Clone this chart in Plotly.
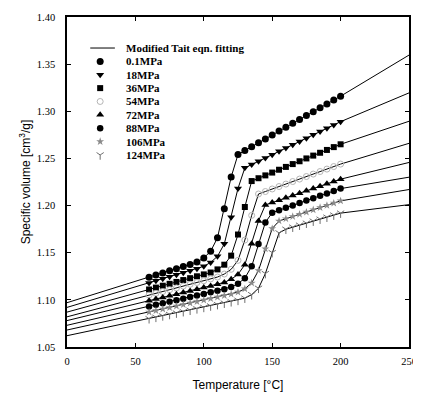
import plotly.graph_objects as go

# ---- data ----
temperature = [60, 65, 70, 75, 80, 85, 90, 95, 100, 105, 110, 115, 120, 125, 130,
               135, 140, 145, 150, 155, 160, 165, 170, 175, 180, 185, 190, 195, 200]
fit_t_start = 0
fit_t_end = 250

labels = ["0.1MPa", "18MPa", "36MPa", "54MPa", "72MPa", "88MPa", "106MPa", "124MPa"]

v_0p1 = [1.1240, 1.1263, 1.1285, 1.1308, 1.1330, 1.1353, 1.1375, 1.1401, 1.1445, 1.1515,
         1.1658, 1.1967, 1.2303, 1.2542, 1.2584, 1.2625, 1.2666, 1.2707, 1.2748, 1.2790,
         1.2831, 1.2872, 1.2913, 1.2954, 1.2996, 1.3037, 1.3078, 1.3119, 1.3160]
v_18 = [1.1180, 1.1202, 1.1223, 1.1245, 1.1266, 1.1288, 1.1310, 1.1331, 1.1356, 1.1397,
        1.1462, 1.1594, 1.1876, 1.2182, 1.2400, 1.2435, 1.2470, 1.2505, 1.2540, 1.2575,
        1.2610, 1.2645, 1.2680, 1.2715, 1.2750, 1.2785, 1.2820, 1.2855, 1.2890]
v_36 = [1.1110, 1.1130, 1.1150, 1.1170, 1.1190, 1.1210, 1.1230, 1.1250, 1.1270, 1.1290,
        1.1323, 1.1373, 1.1469, 1.1693, 1.1985, 1.2260, 1.2290, 1.2320, 1.2350, 1.2380,
        1.2410, 1.2440, 1.2470, 1.2500, 1.2530, 1.2560, 1.2590, 1.2620, 1.2650]
v_54 = [1.1050, 1.1069, 1.1088, 1.1107, 1.1126, 1.1146, 1.1165, 1.1184, 1.1203, 1.1222,
        1.1242, 1.1274, 1.1324, 1.1419, 1.1634, 1.1896, 1.2123, 1.2149, 1.2176, 1.2202,
        1.2228, 1.2255, 1.2281, 1.2308, 1.2334, 1.2361, 1.2387, 1.2414, 1.2440]
v_72 = [1.0990, 1.1008, 1.1025, 1.1043, 1.1060, 1.1078, 1.1095, 1.1113, 1.1130, 1.1148,
        1.1165, 1.1185, 1.1218, 1.1270, 1.1373, 1.1595, 1.1837, 1.2007, 1.2032, 1.2057,
        1.2082, 1.2107, 1.2131, 1.2156, 1.2181, 1.2206, 1.2231, 1.2255, 1.2280]
v_88 = [1.0930, 1.0947, 1.0963, 1.0980, 1.0997, 1.1013, 1.1030, 1.1047, 1.1063, 1.1080,
        1.1097, 1.1113, 1.1136, 1.1171, 1.1230, 1.1356, 1.1593, 1.1821, 1.1925, 1.1951,
        1.1976, 1.2002, 1.2027, 1.2053, 1.2078, 1.2103, 1.2129, 1.2154, 1.2180]
v_106 = [1.0870, 1.0886, 1.0902, 1.0918, 1.0934, 1.0949, 1.0965, 1.0981, 1.0997, 1.1013,
         1.1029, 1.1045, 1.1060, 1.1082, 1.1117, 1.1179, 1.1312, 1.1541, 1.1756, 1.1837,
         1.1860, 1.1884, 1.1908, 1.1931, 1.1955, 1.1979, 1.2002, 1.2026, 1.2050]
v_124 = [1.0800, 1.0815, 1.0830, 1.0845, 1.0860, 1.0875, 1.0890, 1.0905, 1.0920, 1.0935,
         1.0950, 1.0965, 1.0980, 1.0995, 1.1018, 1.1055, 1.1123, 1.1279, 1.1501, 1.1710,
         1.1749, 1.1771, 1.1792, 1.1813, 1.1835, 1.1856, 1.1877, 1.1899, 1.1920]

# fitted-line values at the two ends of the plotted range (T = 0 and T = 250)
fit_v_start = [1.097, 1.092, 1.087, 1.082, 1.078, 1.073, 1.068, 1.062]
fit_v_end = [1.3596, 1.3195, 1.2894, 1.2660, 1.2457, 1.2301, 1.2170, 1.2010]

x_ticks = [0, 50, 100, 150, 200, 250]
y_ticks = [1.05, 1.10, 1.15, 1.20, 1.25, 1.30, 1.35, 1.40]

series = [v_0p1, v_18, v_36, v_54, v_72, v_88, v_106, v_124]

# ---- styles ----
styles = [
    dict(symbol="circle", size=7, color="black", line=dict(width=0)),
    dict(symbol="triangle-down", size=7, color="black", line=dict(width=0)),
    dict(symbol="square", size=6, color="black", line=dict(width=0)),
    dict(symbol="circle-open", size=6, color="#b5b5b5", line=dict(width=1, color="#b5b5b5")),
    dict(symbol="triangle-up", size=7, color="black", line=dict(width=0)),
    dict(symbol="circle", size=6.5, color="black", line=dict(width=0)),
    dict(symbol="star", size=6, color="#8a8a8a", line=dict(width=0)),
    dict(symbol="y-down", size=6, color="#6e6e6e", line=dict(width=1, color="#6e6e6e")),
]

fig = go.Figure()

# fitted lines
for vals, v0, v1 in zip(series, fit_v_start, fit_v_end):
    fig.add_trace(go.Scatter(
        x=[fit_t_start] + temperature + [fit_t_end],
        y=[v0] + vals + [v1],
        mode="lines", line=dict(color="black", width=1),
        showlegend=False, hoverinfo="skip"))

# measured points
for vals, st, lab in zip(series, styles, labels):
    fig.add_trace(go.Scatter(
        x=temperature, y=vals, mode="markers", name=lab,
        marker=st, showlegend=False))

# ---- hand-made legend (paper/auxiliary coordinates) ----
leg_top = 0.906
leg_step = 0.0405
sym_x = 0.097
text_x = 0.168
fig.add_shape(type="line", xref="paper", yref="paper",
              x0=0.068, x1=0.140, y0=leg_top, y1=leg_top,
              line=dict(color="black", width=1))
leg_font = dict(family="Liberation Serif", size=11, color="black", weight="bold")
fig.add_annotation(xref="paper", yref="paper", x=text_x, y=leg_top,
                   text="Modified Tait eqn. fitting", showarrow=False,
                   xanchor="left", yanchor="middle", font=leg_font)
for i, (st, lab) in enumerate(zip(styles, labels)):
    yy = leg_top - leg_step * (i + 1)
    fig.add_trace(go.Scatter(x=[sym_x], y=[yy], mode="markers", marker=st,
                             xaxis="x2", yaxis="y2", showlegend=False,
                             hoverinfo="skip"))
    fig.add_annotation(xref="paper", yref="paper", x=text_x, y=yy, text=lab,
                       showarrow=False, xanchor="left", yanchor="middle",
                       font=leg_font)

tick_font = dict(family="Liberation Serif", size=10.5, color="black")
title_font = dict(family="Liberation Sans", size=12, color="black")

# the page body keeps an 8px margin, so the figure is 8px smaller than the window
fig.update_layout(
    width=413, height=386,
    margin=dict(l=59, r=12, t=4, b=45),
    paper_bgcolor="white", plot_bgcolor="white",
    showlegend=False,
    xaxis=dict(range=[0, 250], tickvals=x_ticks, ticktext=[str(t) for t in x_ticks],
               ticks="inside", ticklen=4, tickcolor="black", ticklabelstandoff=4,
               showline=True, linecolor="black", linewidth=1.5, mirror="ticks",
               showgrid=False, zeroline=False, tickfont=tick_font,
               title=dict(text="Temperature [°C]", font=title_font, standoff=14)),
    yaxis=dict(range=[1.05, 1.40], tickvals=y_ticks,
               ticktext=[f"{t:.2f}" for t in y_ticks],
               ticks="inside", ticklen=4, tickcolor="black", ticklabelstandoff=8,
               showline=True, linecolor="black", linewidth=1.5, mirror="ticks",
               showgrid=False, zeroline=False, tickfont=tick_font,
               title=dict(text="Specific volume [cm<sup>3</sup>/g]", font=title_font,
                          standoff=4)),
    xaxis2=dict(range=[0, 1], overlaying="x", visible=False, fixedrange=True),
    yaxis2=dict(range=[0, 1], overlaying="y", visible=False, fixedrange=True),
)

fig.write_html("out.html")
